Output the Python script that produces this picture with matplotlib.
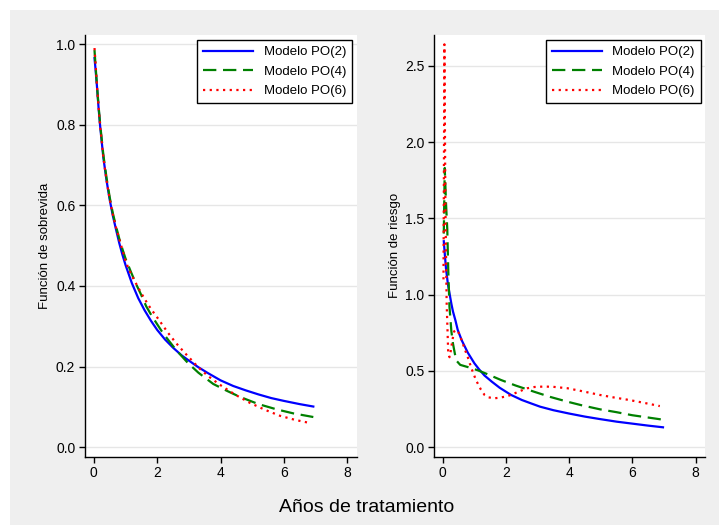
import matplotlib
matplotlib.use("Agg")
import matplotlib.pyplot as plt
from matplotlib.patches import Rectangle

plt.rcParams['font.family'] = ['Liberation Sans', 'DejaVu Sans']

labels = ["Modelo PO(2)", "Modelo PO(4)", "Modelo PO(6)"]
colors = ["#0000ff", "#008000", "#ff0000"]

# Survival function (left panel)
surv_t2 = [0.02, 0.05, 0.10, 0.15, 0.20, 0.30, 0.40, 0.50, 0.60, 0.70, 0.80, 0.90,
           1.00, 1.20, 1.40, 1.60, 1.80, 2.00, 2.25, 2.50, 2.77, 3.00, 3.29, 3.60,
           4.00, 4.40, 4.80, 5.20, 5.60, 6.00, 6.50, 6.93]
surv_s2 = [0.965, 0.940, 0.893, 0.840, 0.795, 0.718, 0.662, 0.614, 0.574, 0.540,
           0.507, 0.478, 0.452, 0.407, 0.370, 0.340, 0.314, 0.291, 0.267, 0.247,
           0.228, 0.215, 0.199, 0.184, 0.166, 0.152, 0.141, 0.131, 0.122, 0.115,
           0.107, 0.101]
surv_t4 = [0.02, 0.05, 0.10, 0.15, 0.20, 0.30, 0.40, 0.50, 0.60, 0.70, 0.80, 0.90,
           1.00, 1.18, 1.35, 1.50, 1.65, 1.82, 2.00, 2.15, 2.34, 2.60, 2.97, 3.30,
           3.77, 4.20, 4.61, 5.20, 5.77, 6.30, 6.93]
surv_s4 = [0.985, 0.950, 0.895, 0.845, 0.800, 0.725, 0.668, 0.620, 0.580, 0.548,
           0.518, 0.492, 0.468, 0.433, 0.402, 0.377, 0.350, 0.327, 0.305, 0.287,
           0.267, 0.241, 0.209, 0.185, 0.157, 0.140, 0.125, 0.107, 0.094, 0.084,
           0.075]
surv_t6 = [0.02, 0.05, 0.10, 0.15, 0.20, 0.30, 0.40, 0.50, 0.60, 0.70, 0.80, 0.90,
           1.00, 1.10, 1.25, 1.40, 1.55, 1.71, 1.85, 2.00, 2.17, 2.34, 2.60, 2.87,
           3.10, 3.30, 3.60, 3.98, 4.45, 4.93, 5.40, 5.88, 6.35, 6.83]
surv_s6 = [0.990, 0.955, 0.895, 0.842, 0.795, 0.718, 0.662, 0.615, 0.577, 0.545,
           0.517, 0.490, 0.462, 0.442, 0.418, 0.396, 0.375, 0.354, 0.338, 0.322,
           0.303, 0.284, 0.258, 0.234, 0.215, 0.198, 0.177, 0.155, 0.131, 0.110,
           0.093, 0.078, 0.068, 0.060]

# Hazard function (right panel)
haz_t2 = [0.03, 0.06, 0.10, 0.16, 0.21, 0.27, 0.32, 0.40, 0.47, 0.60, 0.79, 1.00,
          1.15, 1.32, 1.55, 1.80, 2.16, 2.50, 2.80, 3.08, 3.50, 4.00, 4.50, 4.97,
          5.50, 6.00, 6.50, 6.97]
haz_h2 = [1.35, 1.27, 1.17, 1.07, 1.01, 0.94, 0.89, 0.83, 0.77, 0.70, 0.62, 0.55,
          0.51, 0.47, 0.43, 0.39, 0.343, 0.310, 0.287, 0.266, 0.243, 0.221, 0.201,
          0.185, 0.168, 0.155, 0.142, 0.131]
haz_t4 = [0.03, 0.06, 0.10, 0.14, 0.17, 0.21, 0.27, 0.32, 0.42, 0.55, 0.80, 1.10,
          1.40, 1.84, 2.30, 2.89, 3.40, 3.94, 4.40, 4.97, 5.50, 6.00, 6.90]
haz_h4 = [1.40, 1.83, 1.60, 1.43, 1.17, 0.92, 0.76, 0.68, 0.57, 0.54, 0.525, 0.505,
          0.480, 0.441, 0.405, 0.364, 0.330, 0.299, 0.275, 0.249, 0.230, 0.210, 0.183]
haz_t6 = [0.02, 0.05, 0.08, 0.12, 0.17, 0.21, 0.25, 0.30, 0.36, 0.42, 0.50, 0.60,
          0.68, 0.79, 0.90, 1.05, 1.20, 1.32, 1.45, 1.63, 1.80, 2.00, 2.16, 2.40,
          2.68, 2.90, 3.20, 3.50, 3.94, 4.40, 4.97, 5.40, 5.90, 6.40, 6.87]
haz_h6 = [1.10, 2.64, 1.60, 0.95, 0.62, 0.59, 0.63, 0.70, 0.76, 0.77, 0.75, 0.70,
          0.65, 0.59, 0.52, 0.44, 0.38, 0.343, 0.327, 0.321, 0.325, 0.333, 0.343,
          0.365, 0.387, 0.395, 0.398, 0.396, 0.387, 0.368, 0.343, 0.327, 0.310,
          0.290, 0.270]

xticks = [0, 2, 4, 6, 8]
yticks_left = [0.0, 0.2, 0.4, 0.6, 0.8, 1.0]
yticks_right = [0.0, 0.5, 1.0, 1.5, 2.0, 2.5]

W, H = 719, 525
fig = plt.figure(figsize=(W / 100, H / 100), dpi=100)
fig.patches.append(Rectangle((10 / W, 0), 1 - 10 / W, 1 - 10 / H,
                             transform=fig.transFigure, facecolor="#efefef",
                             edgecolor="none", zorder=-10))

styles = [dict(linestyle="-"), dict(dashes=(6, 3)), dict(dashes=(1, 2))]

def setup(ax, ylim, yticks, ylabel, pad):
    ax.set_facecolor("white")
    for s in ["top", "right"]:
        ax.spines[s].set_visible(False)
    for s in ["left", "bottom"]:
        ax.spines[s].set_linewidth(1.0)
        ax.spines[s].set_color("black")
    ax.set_xlim(-0.28, 8.3)
    ax.set_ylim(*ylim)
    ax.set_xticks(xticks)
    ax.set_xticklabels([str(v) for v in xticks])
    ax.set_yticks(yticks)
    ax.set_yticklabels([f"{v:.1f}" for v in yticks])
    ax.tick_params(direction="out", length=4, width=1, labelsize=10, pad=3)
    ax.grid(axis="y", color="#e6e6e6", linewidth=1)
    ax.set_axisbelow(True)
    ax.set_ylabel(ylabel, fontsize=9.5, labelpad=pad)

axL = fig.add_axes([85 / W, 1 - 456.7 / H, 271.7 / W, 421.7 / H])
axR = fig.add_axes([434 / W, 1 - 456.7 / H, 271 / W, 421.7 / H])

setup(axL, (-0.0234, 1.0224), yticks_left, "Función de sobrevida", 3.5)
setup(axR, (-0.0616, 2.701), yticks_right, "Función de riesgo", 3.0)

for ax, data in [(axL, [(surv_t2, surv_s2), (surv_t4, surv_s4), (surv_t6, surv_s6)]),
                 (axR, [(haz_t2, haz_h2), (haz_t4, haz_h4), (haz_t6, haz_h6)])]:
    for (t, v), c, st, lab in zip(data, colors, styles, labels):
        ax.plot(t, v, color=c, linewidth=1.6, label=lab, **st)
    leg = ax.legend(loc="upper right", bbox_to_anchor=(0.984, 0.988), borderaxespad=0,
                    fontsize=9.5, handlelength=3.8, handletextpad=0.8,
                    labelspacing=0.55, borderpad=0.45, fancybox=False,
                    framealpha=1, edgecolor="black")
    leg.get_frame().set_linewidth(1.0)

fig.text(367 / W, 1 - 508 / H, "Años de tratamiento", fontsize=14,
         ha="center", va="center")

fig.savefig("out.png", dpi=100)
